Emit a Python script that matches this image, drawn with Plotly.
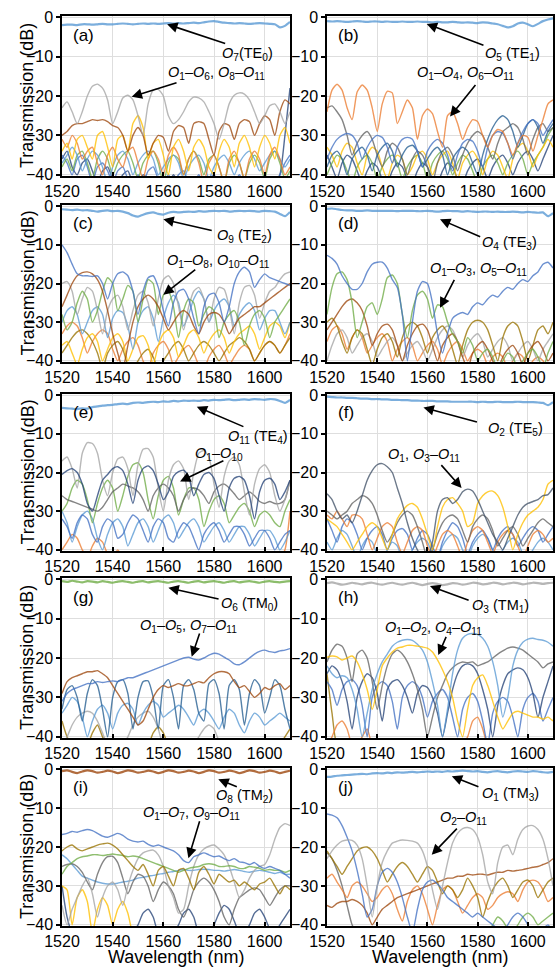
import plotly.graph_objects as go

WL = [1520,1522,1524,1526,1528,1530,1532,1534,1536,1538,1540,1542,1544,1546,1548,1550,1552,1554,1556,1558,
      1560,1562,1564,1566,1568,1570,1572,1574,1576,1578,1580,1582,1584,1586,1588,1590,1592,1594,1596,1598,
      1600,1602,1604,1606,1608,1610]
X_TICKS = [1520, 1540, 1560, 1580, 1600]
Y_TICKS = [0, -10, -20, -30, -40]

# ---------------- (a) ----------------
A_main = [-2.0,-1.9,-1.9,-2.0,-1.8,-1.8,-1.9,-1.8,-1.7,-1.8,-1.8,-1.7,-1.6,-1.7,-1.8,-1.7,-1.6,-1.7,-1.6,-1.7,
          -1.6,-1.5,-1.6,-1.5,-1.6,-1.5,-1.4,-1.5,-1.3,-1.1,-1.0,-1.2,-1.4,-1.5,-1.6,-1.5,-1.6,-1.7,-1.6,-1.5,
          -1.6,-1.7,-1.8,-2.6,-2.2,-1.2]
A_gray = [-23,-21.5,-24,-27,-24,-20,-17.5,-17,-18,-21,-27,-24,-20.5,-19.8,-21,-25,-30,-22,-18.5,-18.3,
          -20,-25,-27,-26,-24,-21.5,-20.3,-20.5,-21.5,-24,-27,-31,-27,-22,-19.8,-19.2,-19.5,-21,-24,-27,
          -25,-22.5,-22,-24,-27,-24]
A_brown = [-30,-29,-27.5,-27,-27,-26.5,-26,-26.2,-26,-26.5,-27.5,-28,-30,-34,-30,-28,-30,-35,-32,-30,
           -30.5,-34,-29,-27.5,-28,-32,-27,-26.5,-27,-31,-35,-29,-27,-27.5,-31,-27,-26,-26.5,-30,-27,
           -25,-26,-30,-24,-21,-22]
A_gold = [-34,-32,-36,-31,-30,-33,-36,-30,-29,-33,-38,-31,-30,-34,-27,-25,-28,-36,-32,-31,
          -35,-40,-33,-31,-34,-39,-33,-31,-33,-38,-40,-34,-31,-33,-38,-32,-30,-33,-38,-33,
          -30,-32,-36,-30,-28,-32]
A_orange = [-31,-33,-30,-32,-36,-34,-33,-37,-40,-35,-33,-36,-38,-34,-33,-37,-41,-36,-34,-36,
            -40,-35,-33,-35,-40,-36,-34,-37,-42,-37,-35,-38,-42,-36,-34,-37,-41,-36,-34,-36,
            -40,-35,-33,-36,-40,-38]
A_green = [-38,-36,-39,-35,-34,-37,-41,-36,-34,-36,-40,-37,-35,-34,-37,-41,-37,-35,-34,-37,
           -42,-37,-35,-36,-40,-36,-34,-36,-40,-36,-35,-38,-42,-37,-35,-37,-41,-37,-35,-37,
           -41,-36,-34,-37,-41,-39]
A_blue = [-35,-37,-40,-36,-35,-38,-42,-38,-37,-39,-42,-39,-38,-41,-42,-40,-42,-39,-38,-41,
          -42,-40,-42,-40,-39,-42,-42,-40,-42,-41,-40,-42,-42,-41,-42,-40,-42,-42,-41,-42,
          -40,-42,-42,-40,-37,-35]
A_navy = [-36,-34,-38,-40,-37,-36,-39,-42,-39,-38,-41,-42,-40,-39,-42,-42,-40,-41,-42,-42,
          -41,-42,-40,-42,-42,-42,-41,-42,-42,-42,-41,-42,-42,-42,-41,-42,-42,-42,-42,-42,
          -42,-41,-42,-40,-30,-18]
A_lblue = [-37,-35,-33,-35,-39,-36,-34,-35,-38,-42,-38,-35,-34,-36,-40,-37,-35,-34,-36,-40,
           -38,-36,-35,-37,-41,-38,-36,-35,-37,-41,-38,-36,-35,-37,-40,-37,-35,-34,-36,-39,
           -37,-35,-34,-36,-38,-36]

# ---------------- (b) ----------------
B_main = [-1.0,-1.1,-1.0,-1.1,-1.2,-1.1,-1.0,-1.1,-1.2,-1.1,-1.1,-1.2,-1.1,-1.2,-1.2,-1.1,-1.2,-1.2,-1.1,-1.2,
          -1.2,-1.3,-1.2,-1.3,-1.3,-1.2,-1.3,-1.4,-1.3,-1.4,-1.5,-1.3,-1.4,-1.6,-1.8,-2.2,-2.6,-2.3,-1.6,-1.4,
          -1.8,-2.3,-1.7,-1.0,-0.6,-0.3]
B_orange = [-24,-18.5,-17,-18.5,-23,-26,-19,-17.2,-18.5,-23,-29,-22,-18.8,-19.2,-27,-24,-21,-23,-31,-25,
            -23.3,-24.5,-29,-33,-25,-24,-27,-31,-28,-26,-26.5,-30,-33,-30,-28.5,-29,-32,-35,-32,-30,
            -30.5,-34,-30,-26,-22,-21]
B_blue = [-36,-33,-31,-30,-29.5,-30,-32,-36,-33,-31,-30,-30.5,-33,-37,-33,-31,-30.5,-31,-34,-38,
          -34,-32,-31,-32,-35,-39,-35,-32,-31,-31.5,-34,-38,-33,-30,-29,-29.5,-32,-36,-32,-29,
          -27,-26,-27,-30,-28,-26]
B_steel = [-38,-35,-34,-36,-40,-36,-34,-33,-35,-39,-35,-33,-32,-34,-38,-35,-33,-32.5,-34,-38,
           -36,-34,-33,-35,-40,-36,-34,-33,-34,-37,-40,-35,-31,-28,-26,-25,-26,-29,-33,-30,
           -27,-26,-28,-32,-29,-27]
B_dgray = [-23,-22.5,-24,-26,-30,-35,-32,-30,-29,-31,-35,-38,-34,-32,-33,-36,-40,-36,-34,-35,
           -38,-42,-37,-34,-33,-35,-39,-35,-32,-30,-29,-30,-33,-36,-32,-29,-28,-27,-28,-31,
           -35,-31,-28,-27,-29,-28]
B_gold = [-33,-35,-38,-34,-32,-33,-37,-40,-35,-33,-34,-38,-41,-37,-35,-36,-40,-38,-35,-34,
          -36,-40,-37,-35,-34,-37,-41,-37,-35,-34,-36,-40,-36,-34,-35,-38,-41,-36,-33,-32,
          -34,-38,-35,-33,-31,-33]
B_green = [-40,-37,-35,-36,-39,-42,-38,-36,-35,-37,-41,-38,-36,-35,-37,-41,-38,-36,-35,-37,
           -41,-37,-35,-34,-36,-40,-37,-35,-36,-39,-42,-38,-36,-35,-37,-40,-37,-35,-34,-36,
           -40,-37,-35,-33,-30,-28]
B_navy = [-35,-38,-41,-37,-35,-36,-39,-42,-39,-37,-38,-41,-42,-39,-37,-38,-41,-42,-39,-37,
          -38,-41,-42,-39,-37,-38,-41,-42,-39,-37,-36,-38,-41,-38,-36,-35,-37,-40,-37,-35,
          -34,-36,-39,-36,-33,-30]

# ---------------- (c) ----------------
C_main = [-0.8,-0.9,-1.0,-0.9,-1.1,-1.0,-1.2,-1.4,-1.2,-1.1,-1.3,-1.2,-1.4,-1.8,-2.4,-2.7,-2.2,-1.8,-1.6,-2.0,
          -2.2,-1.7,-1.5,-1.6,-1.5,-1.4,-1.5,-1.3,-1.4,-1.3,-1.2,-1.3,-1.2,-1.4,-1.3,-1.2,-1.3,-1.2,-1.3,-1.4,
          -1.2,-1.3,-1.4,-2.0,-2.6,-1.5]
C_blue = [-10,-12,-15,-17.5,-18,-18,-18.2,-18,-20,-24,-20,-17.5,-17,-18,-22,-28,-22,-18.5,-18,-21,
          -27,-31,-25,-22,-21.5,-24,-29,-33,-26,-23,-22.5,-25,-30,-26,-20,-17,-15.8,-17,-21,-19,
          -17.5,-18.5,-19,-19.5,-20,-20.5]
C_brown = [-26,-23,-20,-18,-17.2,-17,-17.5,-19,-22,-27,-33,-38,-42,-36,-30,-26,-24,-23,-24,-26,
           -29,-32,-30,-28,-27,-28,-31,-33,-30,-28,-27.5,-28,-30,-33,-31,-29,-28,-27,-26,-26,
           -25,-24,-23,-22,-21,-20]
C_green = [-28,-32,-30,-25,-22,-24,-30,-27,-22,-18.5,-20,-27,-24,-20.5,-22,-30,-24,-19,-20,-28,
           -23,-22,-26,-34,-27,-24,-25,-31,-28,-26,-27,-34,-30,-28,-27,-30,-36,-31,-28,-27,
           -29,-34,-30,-28,-26,-24]
C_gray = [-20,-19.5,-22,-28,-24,-21,-22,-27,-33,-27,-24,-23,-26,-32,-27,-23,-22,-25,-31,-24,
          -19,-18,-20,-26,-32,-26,-22,-21,-24,-30,-24,-21,-21.5,-26,-33,-25,-21,-20.5,-23,-29,
          -25,-22,-21,-19,-17.5,-17]
C_lblue = [-30,-27,-26,-28,-33,-30,-27,-26,-28,-34,-29,-27,-27.5,-31,-37,-30,-27,-26,-29,-35,
           -29,-25,-23,-25,-31,-28,-24,-22,-24,-30,-27,-25,-24,-26,-31,-28,-26,-25,-27,-32,
           -29,-27,-27,-30,-33,-30]
C_gold = [-36,-35,-38,-41,-37,-34,-33,-35,-40,-37,-34,-33,-35,-40,-37,-34,-33.5,-36,-41,-36,
          -33,-32,-34,-39,-36,-33,-32,-34,-38,-35,-33,-32,-34,-38,-35,-33,-32,-31,-33,-37,
          -34,-31,-30,-31,-34,-30]
C_dgold = [-38,-36,-34,-32.5,-32,-33,-35,-38,-42,-38,-36,-35,-37,-41,-42,-40,-38,-37,-39,-42,
           -40,-38,-36,-35,-37,-40,-38,-36,-35,-36,-38,-40,-38,-36,-35,-34,-35,-37,-40,-38,
           -36,-35,-36,-38,-36,-34]
C_orange = [-33,-31,-30,-31,-34,-38,-35,-33,-32,-33,-37,-40,-37,-35,-34,-36,-40,-42,-38,-36,
            -35,-37,-41,-39,-37,-36,-38,-41,-42,-39,-37,-36,-38,-41,-39,-37,-36,-37,-40,-38,
            -36,-35,-36,-38,-36,-33]

# ---------------- (d) ----------------
D_main = [-0.7,-0.6,-0.8,-1.0,-1.1,-1.1,-1.2,-1.2,-1.1,-1.2,-1.2,-1.2,-1.2,-1.2,-1.3,-1.2,-1.2,-1.2,-1.3,-1.3,
          -1.2,-1.3,-1.4,-1.3,-1.2,-1.3,-1.3,-1.4,-1.3,-1.4,-1.5,-1.4,-1.4,-1.5,-1.4,-1.5,-1.5,-1.4,-1.5,-1.6,
          -1.5,-1.6,-1.7,-1.6,-2.6,-1.8]
D_blue = [-12.7,-13.5,-15,-18,-20,-21.5,-21.5,-20,-17,-15,-14.5,-14.5,-16,-19,-21,-28,-40,-30,-22,-19.5,
          -20,-25,-33,-38,-33,-29,-28,-27.5,-28,-26,-25,-25.5,-24,-23,-23.5,-22,-21,-21.5,-20,-19,
          -19.5,-18,-17,-15,-14.5,-16]
D_green = [-28,-21,-17.5,-17,-19,-25,-34,-30,-26,-25,-28,-24,-18.5,-17.8,-20,-28,-34,-27,-23,-22,
           -24,-29,-25.5,-26,-30,-33,-35,-38,-34,-36,-40,-38,-37,-39,-42,-40,-38,-39,-42,-40,
           -38,-37,-39,-42,-38,-35]
D_brown = [-32,-30,-28,-26,-24.5,-24,-25,-27,-31,-36,-33,-31,-30.5,-32,-36,-40,-36,-33,-31,-30.5,
           -32,-36,-40,-36,-34,-33,-35,-39,-42,-38,-36,-35,-37,-40,-42,-39,-37,-36,-38,-41,
           -38,-36,-35,-37,-40,-38]
D_dgold = [-30,-29,-31,-35,-38,-34,-32,-33,-37,-41,-37,-34,-33,-35,-39,-34,-31,-30,-31,-34,
           -38,-34,-32,-31,-33,-37,-41,-36,-32,-30,-29.5,-30,-32,-36,-40,-34,-31,-30,-31,-35,
           -40,-36,-32,-31,-33,-30]
D_orange = [-35,-32,-31,-33,-37,-34,-32,-34,-38,-36,-34,-33,-35,-40,-37,-35,-34,-36,-40,-38,
            -36,-35,-37,-41,-38,-36,-35,-37,-40,-38,-37,-38,-41,-39,-38,-39,-42,-40,-38,-39,
            -42,-40,-39,-40,-42,-41]
D_gray = [-40,-36,-33,-32,-34,-38,-36,-34,-33,-35,-39,-37,-35,-34,-36,-40,-38,-36,-35,-37,
          -40,-37,-34,-32,-31,-32,-35,-39,-36,-34,-33,-35,-39,-37,-35,-34,-36,-40,-38,-36,
          -35,-37,-40,-37,-35,-33]

# ---------------- (e) ----------------
E_main = [-3.3,-3.4,-3.5,-3.6,-3.4,-3.5,-3.1,-2.9,-2.7,-2.6,-2.5,-2.3,-2.2,-2.3,-2.0,-1.9,-2.0,-1.8,-1.7,-1.8,
          -1.6,-1.7,-1.5,-1.6,-1.4,-1.5,-1.4,-1.5,-1.3,-1.4,-1.2,-1.3,-1.2,-1.1,-1.3,-1.2,-1.1,-1.2,-1.0,-1.1,
          -1.2,-1.0,-1.1,-1.5,-2.0,-1.2]
E_gray = [-17,-16,-19,-24,-15,-12.3,-12.5,-15,-22,-26,-20,-16.5,-16,-19,-26,-18,-14,-13.8,-16,-24,
          -30,-22,-18,-17,-19,-27,-20,-15,-14.3,-16,-23,-29,-21,-17,-16,-18,-25,-31,-23,-19,
          -18,-20,-26,-30,-27,-22]
E_navy = [-20.5,-19.5,-19,-20,-23,-28,-30,-26,-22,-20.5,-19,-18.5,-19.5,-23,-28,-22,-19,-18.3,-19.5,-23,
          -27,-25,-21,-19.8,-19.4,-21,-26,-23,-20.5,-20,-21.5,-26,-30,-24,-21.5,-21,-22,-26,-32,-25,
          -22,-21.5,-23,-27,-25,-22]
E_dgray = [-26,-27,-27.5,-28,-28.5,-29,-29.5,-30,-29,-27,-25,-24,-23,-23.5,-24,-25,-27,-30,-26,-24,
           -23,-24,-26,-30,-27,-25,-24,-24.5,-26,-28,-25,-23.5,-23,-24,-25.5,-27,-26,-25,-26,-27.5,
           -28,-27.5,-28,-28,-27,-22]
E_green = [-30,-28,-24,-22,-23,-27,-33,-28,-24,-22,-24,-30,-26,-21,-18,-17.5,-20,-27,-32,-26,
           -22,-21,-24,-31,-27,-24,-24,-27,-34,-30,-27,-26,-28,-33,-31,-29,-28,-30,-34,-31,
           -30,-31,-33,-34,-30,-27]
E_blue = [-32,-34,-37,-33,-31,-32,-36,-38,-34,-32,-33,-37,-36,-33,-31,-32,-35,-38,-34,-32,
          -33,-37,-38,-35,-33,-34,-37,-40,-36,-34,-33,-35,-38,-36,-34,-34,-36,-39,-37,-35,
          -35,-37,-40,-38,-36,-35]
E_lblue = [-30,-33,-38,-34,-31,-30,-32,-37,-40,-36,-33,-32,-34,-39,-36,-33,-32,-34,-38,-35,
           -32,-31,-33,-37,-35,-33,-32,-34,-38,-36,-34,-33,-35,-38,-36,-34,-34,-36,-39,-37,
           -35,-35,-37,-40,-38,-35]
E_orange = [-40,-38,-36,-37,-40,-42,-39,-37,-38,-41,-42,-40,-42,-42,-41,-42,-42,-42,-41,-42,
            -42,-42,-42,-42,-42,-42,-42,-42,-42,-42,-42,-42,-42,-42,-42,-42,-42,-42,-42,-42,
            -42,-42,-42,-42,-40,-30]

# ---------------- (f) ----------------
F_main = [-0.4,-0.5,-0.6,-0.6,-0.7,-0.7,-0.8,-0.9,-0.9,-1.0,-1.0,-1.1,-1.1,-1.2,-1.2,-1.3,-1.3,-1.4,-1.4,-1.5,
          -1.5,-1.5,-1.6,-1.6,-1.6,-1.7,-1.7,-1.7,-1.7,-1.7,-1.8,-1.7,-1.8,-1.8,-1.7,-1.8,-1.8,-1.8,-1.7,-1.8,
          -1.8,-1.8,-1.9,-2.0,-2.6,-1.8]
F_slate = [-25.5,-27,-30,-32,-31,-33,-30,-26,-22,-19.5,-18,-17.7,-18.5,-20,-24,-28,-33,-37,-40,-42,
           -42,-38,-30,-27,-26.5,-28,-27,-25,-24.3,-24.8,-27,-30,-33,-36,-38,-40,-37,-34,-31,-29,
           -28,-27.5,-27,-26,-25.7,-24]
F_dgray = [-30,-31,-32,-31,-30,-28,-27,-26,-26.5,-28,-31,-35,-38,-36,-33,-31,-30,-31,-34,-38,
           -42,-40,-36,-33,-31.5,-31,-32,-35,-38,-34,-32,-31,-32,-35,-39,-37,-35,-34,-36,-39,
           -37,-35,-33,-32,-33,-34]
F_gold = [-32,-33,-34,-36,-38,-40,-38,-36,-34,-33,-34,-37,-40,-36,-32,-30,-28.5,-28,-29,-32,
          -36,-40,-34,-29,-27,-26.5,-28,-30,-34,-33,-28,-26,-25,-24.8,-26,-29,-34,-40,-36,-33,
          -31,-30,-29,-27,-23,-22]
F_orange = [-31,-32,-30,-32,-34,-31,-31,-32,-36,-40,-37,-34,-33,-34,-38,-41,-38,-35,-34,-35,
            -39,-42,-39,-36,-35,-36,-39,-42,-38,-35,-34,-35,-38,-41,-38,-36,-35,-36,-39,-42,
            -39,-36,-35,-36,-38,-37]
F_blue = [-32,-35,-38,-34,-32,-33,-36,-40,-37,-35,-34,-36,-40,-37,-35,-34.5,-36,-40,-37,-35,
          -36,-39,-42,-38,-35,-33,-34,-37,-41,-38,-36,-35,-37,-40,-37,-35,-34,-36,-39,-37,
          -35,-34,-35,-38,-36,-34]
F_lblue = [-38,-40,-37,-35,-36,-39,-42,-39,-37,-38,-41,-42,-40,-38,-39,-42,-42,-40,-38,-37,
           -38,-41,-42,-39,-37,-36,-37,-40,-42,-39,-37,-36,-37,-40,-42,-40,-38,-37,-38,-41,
           -42,-40,-38,-37,-38,-40]

# ---------------- (g) ----------------
G_main = [-0.5,-0.7,-0.4,-0.6,-0.8,-0.5,-0.6,-0.8,-0.5,-0.7,-0.9,-0.6,-0.5,-0.7,-0.9,-0.6,-0.5,-0.8,-0.6,-0.5,
          -0.7,-0.9,-0.6,-0.5,-0.7,-0.9,-0.6,-0.5,-0.8,-0.6,-0.5,-0.7,-0.9,-0.6,-0.5,-0.8,-0.6,-0.5,-0.7,-0.9,
          -0.6,-0.5,-0.7,-0.8,-0.6,-0.5]
G_blue = [-31,-29,-28,-27.5,-27,-26.5,-26.5,-26,-26.2,-26,-25.8,-26,-25.5,-25,-25,-24.5,-24,-23.5,-23,-22.5,
          -22,-21.5,-21,-20.5,-20,-19.8,-20.3,-20.5,-20,-19.3,-18.8,-19,-19.8,-20.5,-21.5,-21.7,-21,-20,-19,-18.3,
          -18,-18.4,-18.6,-18.2,-18,-17.6]
G_brown = [-29,-26,-25,-24.5,-24,-23.5,-23.5,-23.2,-24,-25,-27,-29,-31,-33,-35,-37,-36,-33,-30,-28,
           -27,-27.5,-27,-26.5,-27,-27,-26.5,-26,-26.3,-25,-24,-23.5,-23.5,-24,-26,-27.5,-27,-28.5,-30,-29,
           -27.5,-28,-27,-26.5,-28,-27]
G_steel = [-33,-28,-27,-30,-36,-29,-25.5,-27,-33,-40,-30,-26,-25.5,-29,-38,-30,-26,-25.8,-30,-38,
           -27,-25.5,-30,-38,-27,-25.5,-28,-34,-36,-26.5,-25.5,-29,-38,-27,-25.5,-28,-37,-29,-25.5,-27,
           -34,-30,-25.5,-27,-33,-38]
G_lblue = [-34,-32,-30,-31,-35,-40,-36,-33,-32,-34,-38,-34,-32,-31.5,-33,-37,-34,-32,-31,-32,
           -35,-34,-33,-32,-33,-35,-37,-34,-33,-34,-36,-38,-35,-33,-34,-37,-39,-36,-34,-35,
           -37,-36,-35,-34,-35,-36]
G_gray = [-42,-40,-37,-35,-34,-33.5,-34,-36,-39,-42,-42,-42,-42,-40,-37,-35,-34,-33.5,-35,-38,
          -42,-42,-42,-42,-42,-42,-42,-40,-38,-37,-38,-41,-42,-42,-42,-42,-42,-42,-42,-42,
          -42,-42,-42,-42,-42,-42]
G_gold = [-36,-40,-42,-42,-42,-42,-39,-37,-40,-42,-42,-42,-42,-42,-42,-42,-42,-42,-39,-37.5,
          -39,-42,-42,-42,-42,-42,-42,-42,-42,-42,-42,-42,-42,-42,-42,-42,-42,-42,-42,-42,
          -42,-42,-42,-42,-40,-38]

# ---------------- (h) ----------------
H_main = [-1.0,-0.8,-1.1,-1.4,-1.2,-0.9,-1.1,-1.3,-1.0,-0.9,-1.2,-1.4,-1.1,-0.9,-1.2,-1.4,-1.1,-0.9,-1.2,-1.5,
          -1.2,-1.0,-1.2,-1.5,-1.3,-1.0,-1.1,-1.4,-1.2,-0.9,-1.0,-1.3,-1.2,-0.9,-1.0,-1.3,-1.1,-0.9,-1.0,-1.3,
          -1.1,-0.9,-1.0,-1.2,-1.0,-0.9]
H_gold = [-19.8,-19.5,-19.7,-20.5,-20,-19.5,-21,-24,-28,-33,-28,-22,-20,-18.5,-17.5,-17.2,-16.8,-16.8,-17,-17.2,
          -17.5,-18.5,-20.5,-23,-26,-30,-36,-40,-33,-27,-25,-24.3,-27,-31,-35,-38,-36,-34,-33.5,-34,
          -34.5,-35,-35,-35.5,-35,-36]
H_lblue = [-22,-24,-25,-24.5,-25,-28,-33,-40,-34,-28,-24,-21,-19,-17,-16,-15.5,-15.3,-15.5,-16.5,-18,
           -21,-26,-32,-40,-33,-24,-18,-15,-14,-13.8,-14,-15,-17,-21,-27,-35,-30,-22,-18,-16,
           -15.2,-15,-15.3,-15.5,-16,-17]
H_dgray = [-21,-18,-16.5,-17,-20,-26,-19,-18,-20,-26,-33,-27,-22,-19,-18,-19,-21,-24,-28,-33,
           -40,-35,-30,-27,-24,-22.5,-21.5,-21,-21.2,-21,-22,-21.5,-21,-20,-19,-18.2,-17.5,-17.2,-17.5,-18,
           -19,-20,-21,-22.5,-21.5,-21]
H_navy = [-24,-22,-23,-26,-31,-38,-30,-26,-24,-25,-29,-36,-28,-26,-25.5,-27,-30,-34,-29,-27,
          -27.5,-30,-34,-40,-34,-28,-24,-22,-21.5,-22,-24,-28,-33,-40,-32,-27,-24,-23,-22.5,-23,
          -25,-29,-35,-30,-26,-22]
H_blue = [-26,-28,-32,-28,-26,-25.5,-27,-32,-40,-30,-27,-26,-27,-31,-38,-30,-27,-26,-27,-30,
          -35,-31,-29,-28,-30,-35,-40,-33,-30,-29,-31,-36,-42,-34,-31,-30,-31,-35,-40,-33,
          -30,-29,-31,-36,-33,-30]
H_orange = [-42,-40,-37,-36,-38,-42,-42,-40,-38,-42,-42,-42,-42,-42,-42,-42,-42,-42,-42,-42,
            -42,-42,-42,-42,-42,-42,-42,-42,-40,-36,-35,-38,-42,-42,-42,-42,-42,-42,-42,-42,
            -42,-42,-42,-42,-42,-42]
H_dgold = [-24,-34,-42,-42,-42,-42,-42,-42,-42,-42,-42,-42,-42,-42,-42,-42,-42,-42,-42,-42,
           -42,-42,-42,-42,-42,-42,-42,-42,-42,-42,-42,-42,-42,-42,-42,-42,-42,-42,-42,-42,
           -42,-42,-42,-42,-42,-42]

# ---------------- (i) ----------------
I_main = [-0.5,-0.3,-0.7,-1.0,-0.6,-0.3,-0.5,-0.9,-0.7,-0.4,-0.6,-1.0,-0.7,-0.3,-0.5,-0.9,-0.7,-0.4,-0.6,-1.0,
          -0.7,-0.3,-0.5,-0.9,-0.7,-0.4,-0.6,-1.0,-0.7,-0.3,-0.5,-0.9,-0.7,-0.4,-0.6,-1.0,-0.7,-0.3,-0.5,-0.9,
          -0.7,-0.4,-0.6,-1.0,-0.7,-0.4]
I_blue = [-16.8,-16.5,-16,-16.2,-15.8,-15.5,-15.8,-16.5,-17.2,-17.5,-17,-16.5,-17,-18,-18.5,-18.7,-18.5,-19.3,-19.8,-19.5,
          -20,-20.5,-21,-22,-23.5,-24,-22.5,-22,-21.5,-22,-22.5,-22.3,-23,-23.5,-23,-23.8,-24,-24.5,-24,-25,
          -25.5,-25,-25.5,-26,-27,-28]
I_dgold = [-21,-20,-19.5,-20.5,-21,-20.5,-20,-19.5,-19.2,-19,-19.5,-20.5,-22,-23.5,-25,-26,-24.5,-27,-30,-26,
           -25,-27.5,-30,-26,-25.5,-28,-31,-26.5,-25,-27,-29.5,-27,-28,-29,-28.5,-30,-29,-30,-31,-29.5,
           -29,-28,-30,-32,-30,-31]
I_green = [-27,-25,-24,-23,-22.5,-22.3,-22,-22,-22.2,-22,-21.8,-22,-22.2,-22.5,-22.3,-22.5,-23,-23.5,-24,-24.5,
           -25,-25.5,-26,-26.5,-26,-25.5,-25.2,-25,-24.5,-24.3,-24.5,-25,-25,-24.8,-25,-25.5,-25.5,-25,-25.2,-25.5,
           -26,-25.8,-26,-26,-26.5,-26]
I_gray = [-35,-40,-36,-33,-30,-28,-32,-38,-33,-30,-29,-31,-35,-30,-26,-23,-21.5,-21,-20.8,-22,
          -25,-30,-33,-37,-36,-30,-25,-22,-20.5,-19.8,-19.5,-20.5,-22,-25,-29,-33,-31,-28,-26,-25,
          -24.5,-22,-18,-15,-14,-14.5]
I_dgray = [-25,-24.5,-24.3,-25,-26.5,-29,-31,-27,-24,-22.5,-22.4,-24,-28,-32,-29,-27,-27.5,-30,-34,-31,
           -29,-30,-32,-36,-38,-35,-31,-29,-28,-29,-31,-34,-38,-40,-36,-33,-32,-31,-30.5,-31,
           -33,-35,-33,-31,-30,-30]
I_lblue = [-22,-23,-24.5,-26,-27.5,-28,-28.5,-29,-29.3,-29.5,-29.5,-29.3,-29,-28.8,-28.5,-28,-27.8,-27.5,-27.3,-27,
           -26.8,-26.5,-26.3,-26,-25.8,-26,-26,-25.8,-25.7,-25.8,-26,-26,-26.2,-26,-25.8,-26,-26.3,-26.5,-26.2,-26,
           -26.2,-26.5,-26.8,-26.5,-27,-27]
I_gold = [-30,-31,-40,-33,-31,-34,-42,-36,-33,-35,-40,-36,-34,-37,-42,-42,-42,-42,-42,-42,
          -42,-42,-42,-42,-42,-42,-42,-42,-42,-42,-42,-42,-42,-42,-42,-42,-42,-42,-42,-42,
          -42,-42,-42,-42,-42,-42]
I_navy = [-30,-38,-42,-42,-42,-42,-42,-42,-42,-42,-42,-42,-42,-42,-42,-40,-37,-36,-38,-42,
          -42,-42,-42,-40,-37,-36,-38,-42,-42,-42,-40,-37,-35,-36,-39,-42,-42,-40,-37,-36,
          -38,-41,-42,-40,-38,-36]

# ---------------- (j) ----------------
J_main = [-2.0,-1.9,-1.7,-1.6,-1.5,-1.4,-1.3,-1.2,-1.3,-1.1,-1.0,-1.1,-0.9,-1.0,-0.8,-0.9,-0.8,-0.7,-0.8,-0.7,
          -0.6,-0.7,-0.6,-0.7,-0.5,-0.6,-0.5,-0.4,-0.5,-0.6,-0.5,-0.7,-0.8,-0.6,-0.5,-0.7,-0.8,-0.6,-0.5,-0.6,
          -0.7,-0.5,-0.6,-0.8,-0.9,-0.7]
J_gray = [-23,-21,-19.5,-18.5,-18.2,-18.3,-19.5,-23,-30,-38,-30,-24,-21,-19,-18.5,-18.2,-18.3,-18.5,-19,-21,
          -25,-31,-36,-30,-24,-19,-16.5,-15.3,-15,-15.5,-17.5,-22,-29,-32,-24,-20,-19.5,-22,-18,-15.5,
          -14.6,-14.5,-15.5,-18,-23,-30]
J_blue = [-11.5,-11.8,-12.5,-14.5,-17.5,-21,-26,-32,-38,-36,-30,-26.5,-25.5,-26.5,-29,-33,-38,-42,-36,-31,
          -29,-28.5,-29.5,-31,-33,-34,-35,-36,-37,-38,-37,-38,-39,-40,-41,-42,-40,-38,-37,-38,
          -40,-42,-42,-41,-40,-42]
J_dgold = [-21,-23,-25,-27,-25,-23,-21,-20.2,-20,-21,-23,-26,-29,-27,-25,-24,-25,-27,-29,-27,
           -25,-26,-29,-32,-30,-31,-33,-31,-28,-30,-33,-38,-34,-31,-29,-28,-30,-33,-31,-29,
           -28.5,-30,-33,-31,-29,-28]
J_brown = [-35,-35.5,-34.5,-34,-34,-33.5,-34,-35,-37,-40,-38,-36,-35,-34,-33,-32.5,-32,-31.5,-31,-30.5,
           -30,-29.5,-29,-28.5,-28,-28,-27.5,-27.5,-27,-27.2,-27,-27,-27.2,-26.8,-26.5,-26.5,-26,-26.2,-26,-25.8,
           -25.5,-25.2,-25,-24.5,-24,-23]
J_orange = [-28,-27,-29,-31,-33,-30,-29,-30,-32,-34,-33,-31,-30,-32,-36,-39,-34,-31,-30,-32,
            -36,-40,-35,-31,-30,-31,-34,-37,-35,-33,-32,-33,-36,-35,-33,-32,-31.5,-32,-34,-31,
            -29,-28.5,-29,-31,-34,-33]
J_dgray = [-21.5,-23,-26,-30,-35,-40,-42,-42,-42,-42,-42,-42,-42,-42,-42,-42,-42,-42,-42,-42,
           -42,-42,-42,-42,-42,-42,-42,-42,-42,-42,-42,-42,-42,-42,-42,-42,-42,-42,-42,-42,
           -42,-42,-42,-42,-42,-42]
J_green = [-42,-42,-42,-42,-42,-42,-42,-42,-42,-42,-42,-42,-42,-42,-42,-42,-42,-42,-42,-42,
           -42,-42,-42,-42,-42,-42,-42,-42,-42,-42,-42,-42,-42,-40,-38,-39,-41,-42,-40,-38,
           -37,-38,-40,-39,-38,-37]

COLORS = dict(lblue='#5B9BD5', orange='#ED7D31', gray='#A5A5A5', gold='#FFC000', blue='#4472C4',
              green='#70AD47', navy='#264478', brown='#9E480E', dgray='#636363', dgold='#997300',
              steel='#255E91', slate='#44546A')

def O(n):
    return '<i>O</i><sub>%s</sub>' % n

PANELS = [
    ('(a)', [(A_navy, 'navy'), (A_blue, 'blue'), (A_green, 'green'), (A_lblue, 'lblue'), (A_orange, 'orange'),
             (A_gold, 'gold'), (A_brown, 'brown'), (A_gray, 'gray')], (A_main, 'lblue'),
     (O(7) + '(TE<sub>0</sub>)', (1561.5, -1.8), (1585, -6.8), (1593.4, -9.4)),
     (O(1) + '–' + O(6) + ', ' + O(8) + '–' + O(11), (1547.5, -20.2), (1565.8, -16.5), (1580.8, -14.1))),
    ('(b)', [(B_navy, 'navy'), (B_green, 'green'), (B_gold, 'gold'), (B_dgray, 'dgray'), (B_steel, 'steel'),
             (B_blue, 'blue'), (B_orange, 'orange')], (B_main, 'lblue'),
     (O(5) + ' (TE<sub>1</sub>)', (1559.7, -1.7), (1582.9, -7.25), (1593.9, -9.4)),
     (O(1) + '–' + O(4) + ', ' + O(6) + '–' + O(11), (1569, -25.2), (1579.6, -16.8), (1575, -14.1))),
    ('(c)', [(C_orange, 'orange'), (C_dgold, 'dgold'), (C_gold, 'gold'), (C_lblue, 'lblue'), (C_gray, 'gray'),
             (C_green, 'green'), (C_brown, 'brown'), (C_blue, 'blue')], (C_main, 'lblue'),
     (O(9) + ' (TE<sub>2</sub>)', (1560, -3.4), (1579.7, -6.4), (1592.2, -7.6)),
     (O(1) + '–' + O(8) + ', ' + O(10) + '–' + O(11), (1560, -22.9), (1573.2, -16.1), (1581.7, -14.3))),
    ('(d)', [(D_orange, 'orange'), (D_gray, 'gray'), (D_dgold, 'dgold'), (D_brown, 'brown'), (D_green, 'green'),
             (D_blue, 'blue')], (D_main, 'lblue'),
     (O(4) + ' (TE<sub>3</sub>)', (1565, -3.4), (1581.6, -8.1), (1592.5, -9.55)),
     (O(1) + '–' + O(3) + ', ' + O(5) + '–' + O(11), (1565, -26.3), (1571, -18.7), (1580.5, -16.3))),
    ('(e)', [(E_orange, 'orange'), (E_lblue, 'lblue'), (E_blue, 'blue'), (E_green, 'green'), (E_dgray, 'dgray'),
             (E_gray, 'gray'), (E_navy, 'navy')], (E_main, 'lblue'),
     (O(11) + ' (TE<sub>4</sub>)', (1573.2, -3.0), (1592.2, -8.3), (1597.4, -10.7)),
     (O(1) + '–' + O(10), (1566.6, -22.3), (1584.3, -16.8), (1581.8, -15.3))),
    ('(f)', [(F_lblue, 'lblue'), (F_blue, 'blue'), (F_orange, 'orange'), (F_dgray, 'dgray'), (F_gold, 'gold'),
             (F_slate, 'slate')], (F_main, 'lblue'),
     (O(2) + ' (TE<sub>5</sub>)', (1558.4, -3.2), (1580.3, -7.05), (1594.9, -8.75)),
     (O(1) + ', ' + O(3) + '–' + O(11), (1573.6, -24), (1565, -17.7), (1558.6, -15.5))),
    ('(g)', [(G_gold, 'dgold'), (G_gray, 'gray'), (G_lblue, 'lblue'), (G_steel, 'steel'), (G_brown, 'brown'),
             (G_blue, 'blue')], (G_main, 'green'),
     (O(6) + ' (TM<sub>0</sub>)', (1562, -2.2), (1582.4, -5.1), (1594.2, -6.3)),
     (O(1) + '–' + O(5) + ', ' + O(7) + '–' + O(11), (1571.2, -19.7), (1574.5, -13.4), (1570.1, -12))),
    ('(h)', [(H_dgold, 'dgold'), (H_orange, 'orange'), (H_blue, 'blue'), (H_navy, 'navy'), (H_dgray, 'dgray'),
             (H_lblue, 'lblue'), (H_gold, 'gold')], (H_main, 'gray'),
     (O(3) + ' (TM<sub>1</sub>)', (1561, -1.75), (1577, -5.5), (1588.9, -6.75)),
     (O(1) + '–' + O(2) + ', ' + O(4) + '–' + O(11), (1564.3, -19.25), (1567.7, -14.25), (1562.6, -12.4))),
    ('(i)', [(I_navy, 'navy'), (I_gold, 'gold'), (I_lblue, 'lblue'), (I_dgray, 'dgray'), (I_gray, 'gray'),
             (I_green, 'green'), (I_dgold, 'dgold'), (I_blue, 'blue')], (I_main, 'brown'),
     (O(8) + ' (TM<sub>2</sub>)', (1581.7, -2.6), (1589.6, -4.7), (1592.2, -6.8)),
     (O(1) + '–' + O(7) + ', ' + O(9) + '–' + O(11), (1569.9, -22.9), (1574.5, -13), (1571.2, -11.3))),
    ('(j)', [(J_green, 'green'), (J_dgray, 'dgray'), (J_orange, 'orange'), (J_brown, 'brown'), (J_dgold, 'dgold'),
             (J_blue, 'blue'), (J_gray, 'gray')], (J_main, 'lblue'),
     (O(1) + ' (TM<sub>3</sub>)', (1569.7, -1.8), (1580.9, -4.7), (1592.9, -6.4)),
     (O(2) + '–' + O(11), (1561.7, -22), (1572.3, -14.9), (1574.2, -12.5))),
]

W, H = 555, 969
ROWS_PX = [(16, 176), (205, 362), (394, 551), (578, 738), (768, 926)]
COLS_PX = [(62, 290), (327, 553)]
FONT = 'Liberation Sans, Arial, sans-serif'

fig = go.Figure()
layout = {}
annotations = []

for k, (letter, others, main, lab_main, lab_x) in enumerate(PANELS):
    r, c = divmod(k, 2)
    n = k + 1
    xr = 'x' if n == 1 else 'x%d' % n
    yr = 'y' if n == 1 else 'y%d' % n
    for ys, col in others:
        fig.add_trace(go.Scatter(x=WL, y=ys, mode='lines', xaxis=xr, yaxis=yr,
                                 line=dict(color=COLORS[col], width=1.4, shape='spline', smoothing=0.6),
                                 opacity=0.78, showlegend=False, hoverinfo='skip'))
    ys, col = main
    fig.add_trace(go.Scatter(x=WL, y=ys, mode='lines', xaxis=xr, yaxis=yr,
                             line=dict(color=COLORS[col], width=2.2, shape='spline', smoothing=0.6),
                             opacity=0.8, showlegend=False, hoverinfo='skip'))
    x0, x1 = COLS_PX[c]
    y0, y1 = ROWS_PX[r]
    axcommon = dict(showline=True, mirror=True, linecolor='black', linewidth=1.5,
                    showgrid=True, gridcolor='#dedede', gridwidth=1, zeroline=False, automargin=False,
                    tickfont=dict(family=FONT, size=16, color='black'),
                    tickcolor='black', ticklen=4, tickwidth=1.5)
    layout['xaxis' if n == 1 else 'xaxis%d' % n] = dict(
        domain=[x0 / W, x1 / W], anchor=yr, range=[1520, 1610], tickvals=X_TICKS,
        ticktext=[str(v) for v in X_TICKS], ticks='inside', **axcommon)
    layout['yaxis' if n == 1 else 'yaxis%d' % n] = dict(
        domain=[1 - y1 / H, 1 - y0 / H], anchor=xr, range=[-40.3, 0.3], tickvals=Y_TICKS,
        ticks='outside', **axcommon)
    annotations.append(dict(xref=xr, yref=yr, x=1523.6, y=-4.6, text=letter, showarrow=False,
                            xanchor='left', yanchor='middle', font=dict(family=FONT, size=17, color='black')))
    for text, head, tail, pos in (lab_main, lab_x):
        annotations.append(dict(xref=xr, yref=yr, axref=xr, ayref=yr, x=head[0], y=head[1],
                                ax=tail[0], ay=tail[1], text='', showarrow=True, arrowhead=2,
                                arrowsize=1.3, arrowwidth=1.6, arrowcolor='black'))
        annotations.append(dict(xref=xr, yref=yr, x=pos[0], y=pos[1], text=text, showarrow=False,
                                xanchor='center', yanchor='middle',
                                font=dict(family=FONT, size=14.5, color='black')))

for r, (y0, y1) in enumerate(ROWS_PX):
    annotations.append(dict(xref='paper', yref='paper', x=27 / W, y=1 - (y0 + y1) / 2 / H,
                            text='Transmission (dB)', textangle=-90, showarrow=False,
                            xanchor='center', yanchor='middle',
                            font=dict(family=FONT, size=18, color='black')))
for c, (x0, x1) in enumerate(COLS_PX):
    annotations.append(dict(xref='paper', yref='paper', x=(x0 + x1) / 2 / W, y=1 - 957 / H,
                            text='Wavelength (nm)', showarrow=False, xanchor='center', yanchor='middle',
                            font=dict(family=FONT, size=18, color='black')))

fig.update_layout(width=W, height=H, margin=dict(l=0, r=0, t=0, b=0, pad=0, autoexpand=False),
                  paper_bgcolor='white', plot_bgcolor='white', font=dict(family=FONT, color='black'),
                  showlegend=False, annotations=annotations, **layout)
fig.write_html('out.html', config={'displayModeBar': False})

with open('out.html', 'r', encoding='utf-8') as fh:
    page = fh.read()
page = page.replace('<head>', '<head><style>html,body{margin:0;padding:0;overflow:hidden;}</style>', 1)
with open('out.html', 'w', encoding='utf-8') as fh:
    fh.write(page)
